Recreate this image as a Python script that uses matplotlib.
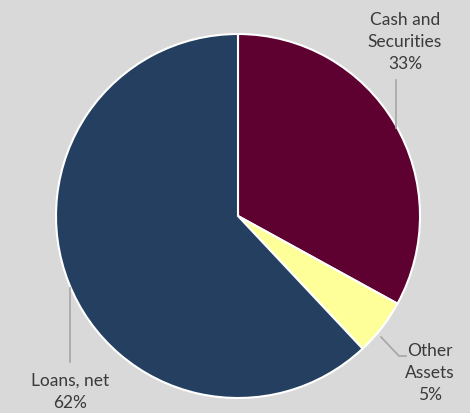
import matplotlib.pyplot as plt

labels = ["Cash and\nSecurities", "Other\nAssets", "Loans, net"]
shares = [33, 5, 62]
colours = ["#5e0030", "#ffff99", "#243f60"]

W, H = 470, 413
fig = plt.figure(figsize=(W / 100, H / 100), dpi=100)
fig.patch.set_facecolor("#d9d9d9")
ax = fig.add_axes([0, 0, 1, 1])
ax.set_facecolor("#d9d9d9")

cx, cy, r = 238, H - 216, 182
ax.pie(shares, colors=colours, startangle=90, counterclock=False,
       center=(cx, cy), radius=r,
       wedgeprops=dict(edgecolor="white", linewidth=1.5))

ax.set_xlim(0, W)
ax.set_ylim(0, H)
ax.set_aspect("equal")
ax.axis("off")

line_kw = dict(color="#a6a6a6", linewidth=1.2)
font = dict(family=["Lato", "DejaVu Sans"], fontsize=12.5, color="#3a3a3a",
            ha="center", linespacing=1.45)

# cash and securities
ax.plot([396, 396], [H - 80, H - 128], **line_kw)
ax.text(405, H - 12, "%s\n%d%%" % (labels[0], shares[0]), va="top", **font)

# other assets
ax.plot([381, 399, 406], [H - 337, H - 356, H - 356], **line_kw)
ax.text(430, H - 343, "%s\n%d%%" % (labels[1], shares[1]), va="top", **font)

# loans, net
ax.plot([70, 70], [H - 288, H - 362], **line_kw)
ax.text(70, H - 373, "%s\n%d%%" % (labels[2], shares[2]), va="top", **font)

fig.savefig("out.png", dpi=100, facecolor=fig.get_facecolor())
